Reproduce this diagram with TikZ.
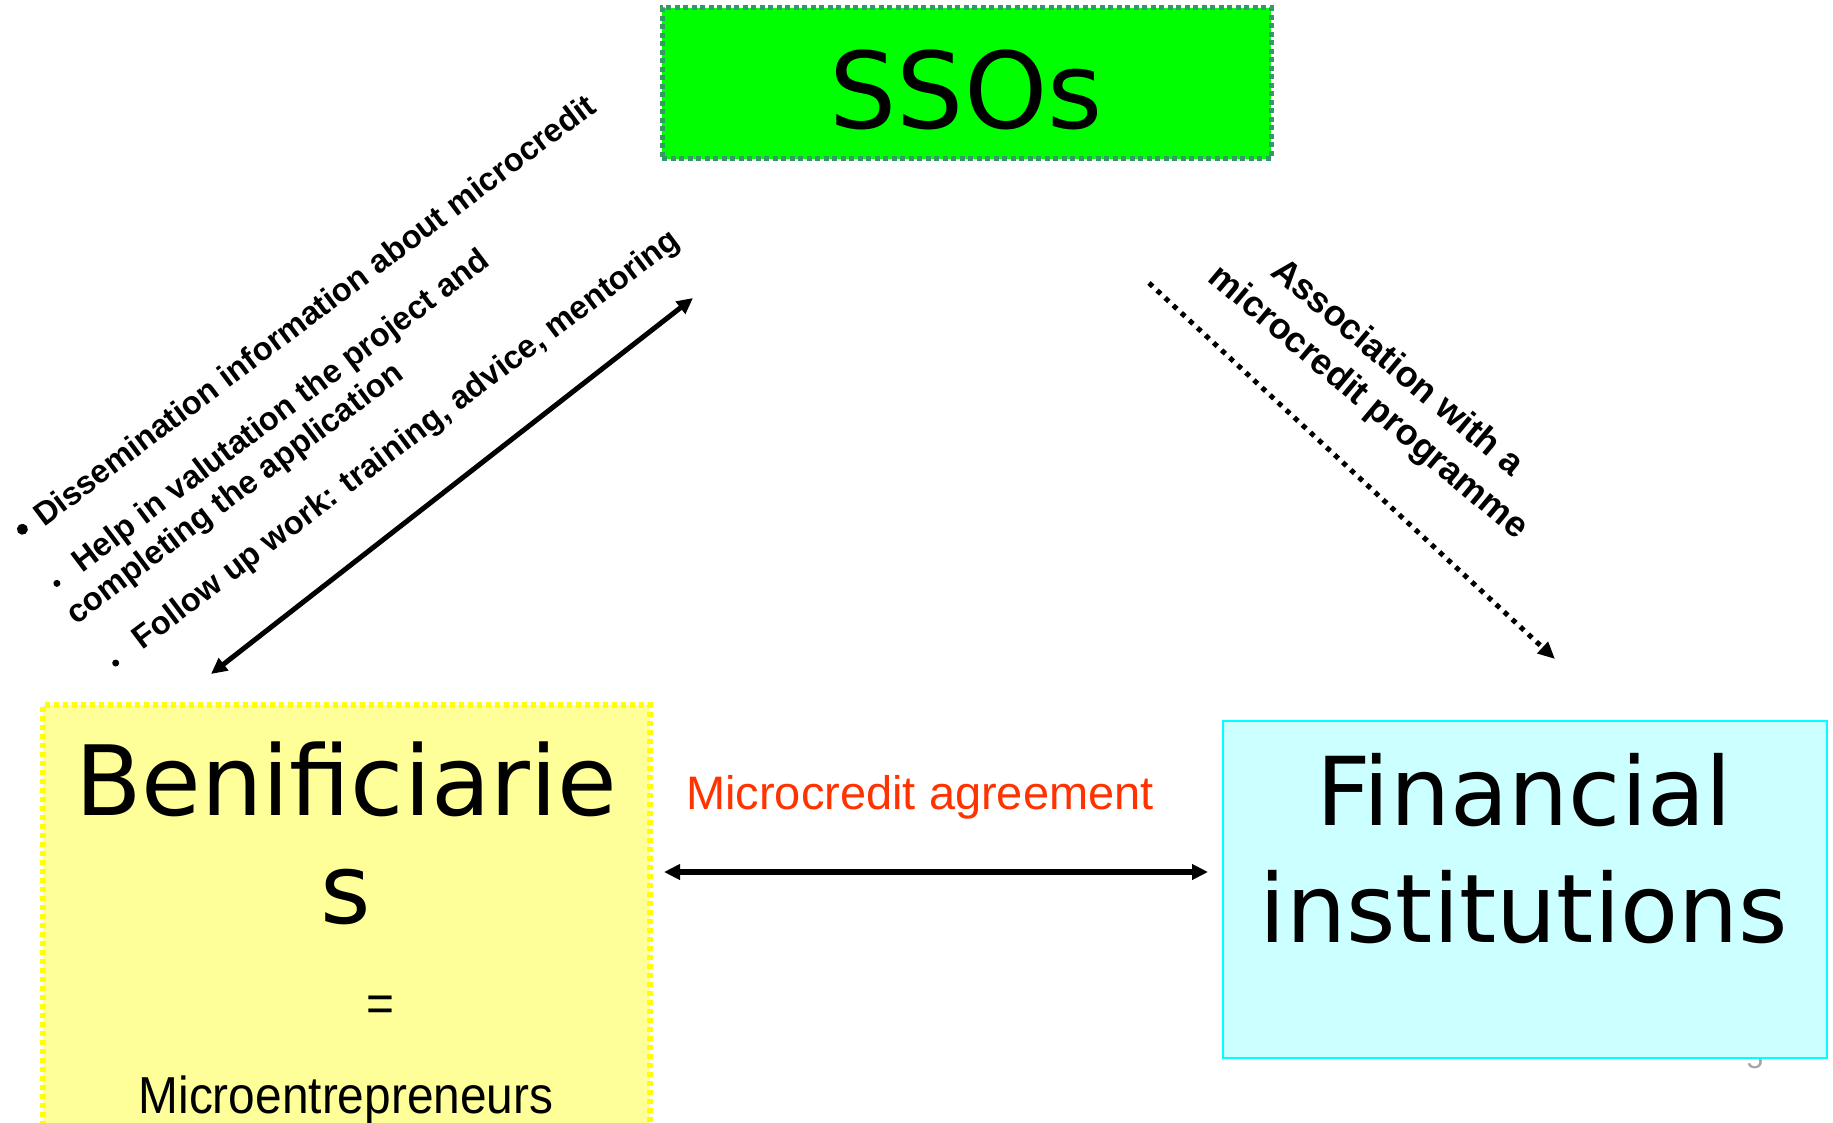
\documentclass[tikz,border=0pt]{standalone}
\usepackage{fontspec}
\setmainfont{Liberation Sans}
\newfontfamily\dejavu{DejaVu Sans}
\newfontfamily\narrowfont[FakeStretch=0.92]{Liberation Sans}
\usetikzlibrary{arrows.meta}
\definecolor{ssogreen}{HTML}{00FF00}
\definecolor{ssoborder}{HTML}{339966}
\definecolor{benfill}{HTML}{FFFF99}
\definecolor{benborder}{HTML}{FFFF00}
\definecolor{finfill}{HTML}{CCFFFF}
\definecolor{finborder}{HTML}{00FFFF}
\definecolor{agreecol}{HTML}{FF3300}
\begin{document}
\begin{tikzpicture}[x=1pt,y=-1pt,
  boxnode/.style={rectangle, inner sep=0pt, outer sep=0pt, anchor=north west},
  bigtxt/.style={font=\dejavu\fontsize{#1}{#1}\selectfont, inner sep=0pt, anchor=base},
  midtxt/.style={font=\fontsize{47}{47}\selectfont, inner sep=0pt, anchor=base},
  narrowtxt/.style={font=\narrowfont\fontsize{52}{52}\selectfont, inner sep=0pt, anchor=base},
  bultxt/.style={font=\bfseries\fontsize{32.5}{37}\selectfont, inner sep=0pt, anchor=base west, transform shape},
  conn/.style={line width=5pt, {Triangle[length=16pt,width=15pt]}-{Triangle[length=16pt,width=15pt]}},
  dotconn/.style={line width=5pt, dash pattern=on 5pt off 6pt, -{Triangle[length=17pt,width=15pt]}}
]
\useasboundingbox (0,0) rectangle (1833,1123);
\fill[white] (0,0) rectangle (1833,1123);

% page number, partly hidden
\node[font=\fontsize{30}{30}\selectfont, text=gray!70, inner sep=0pt, anchor=base] (pg) at (1755,1068) {5};

% boxes
\node[boxnode, minimum width=609pt, minimum height=151pt, fill=ssogreen, draw=ssoborder, line width=5pt, dash pattern=on 5pt off 3.5pt] (sso) at (662,8) {};
\node[boxnode, minimum width=607pt, minimum height=440pt, fill=benfill, draw=benborder, line width=5.5pt, dash pattern=on 5pt off 4pt] (ben) at (43,705) {};
\node[boxnode, minimum width=604pt, minimum height=337pt, fill=finfill, draw=finborder, line width=2.5pt] (fin) at (1223,721) {};

% box texts
\node[bigtxt=106] (ssot) at (966,129) {SSOs};
\node[bigtxt=97] (bent1) at (346,815) {Benificiarie};
\node[bigtxt=97] (bent2) at (346,923) {s};
\node[narrowtxt] (eq) at (380,1021) {=};
\node[narrowtxt] (micro) at (346,1113) {Microentrepreneurs};
\node[bigtxt=95] (fint1) at (1524,825) {Financial};
\node[bigtxt=95] (fint2) at (1524,942) {institutions};

% agreement
\node[midtxt, text=agreecol] (agr) at (920,809) {Microcredit agreement};
\coordinate (hl) at (664,872);
\coordinate (hr) at (1208,872);
\draw[conn, line width=5.5pt] (hl) -- (hr);

% diagonal double arrow
\coordinate (dtop) at (693,298);
\coordinate (dbot) at (211,674);
\draw[conn] (dtop) -- (dbot);

% dotted arrow
\coordinate (ptop) at (1149,283);
\coordinate (pbot) at (1555,659);
\draw[dotconn] (ptop) -- (pbot);

% association text
\node[rotate=-40, align=center, font=\bfseries\fontsize{36}{45}\selectfont, inner sep=0pt] (assoc) at (1382,386) {Association with a\\microcredit programme};

% left rotated bullet list
\begin{scope}[shift={(44,528)}, rotate=37]
  \fill (-18,-12) circle (5.5pt);
  \node[bultxt] (l1) at (0,0) {Dissemination information about microcredit};
  \fill (-23,52) circle (3.5pt);
  \node[bultxt] (l2) at (3,59) {Help in valutation the project and};
  \node[bultxt] (l3) at (-33,97) {completing the application};
  \fill (-24,151) circle (3.5pt);
  \node[bultxt] (l4) at (5,157) {Follow up work: training, advice, mentoring};
\end{scope}
\end{tikzpicture}
\end{document}
